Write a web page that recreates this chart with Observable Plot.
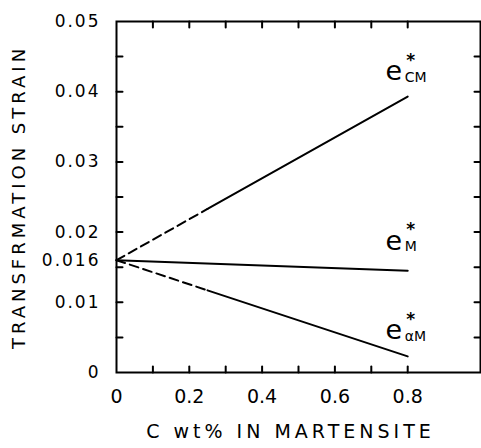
<!DOCTYPE html>
<html>
<head>
<meta charset="utf-8">
<script src="https://cdn.jsdelivr.net/npm/d3@7"></script>
<script src="https://cdn.jsdelivr.net/npm/@observablehq/plot@0.6"></script>
<style>
  html, body { margin: 0; padding: 0; background: #fff; }
  #chart svg { display: block; font-family: "DejaVu Sans", sans-serif; }
  g[aria-label="y-axis tick label"] text { letter-spacing: 2px; }
</style>
</head>
<body>
<div id="chart"></div>
<script>
// --- data ---
const cmDashX = [0, 0.25], cmDashY = [0.016, 0.0233];
const cmSolidX = [0.25, 0.8], cmSolidY = [0.0233, 0.0393];
const mX = [0, 0.8], mY = [0.016, 0.0145];
const amDashX = [0, 0.25], amDashY = [0.016, 0.0117];
const amSolidX = [0.25, 0.8], amSolidY = [0.0117, 0.0023];

const labelSubs = ["CM", "M", "αM"];
const labelX = [0.8, 0.8, 0.8];
const labelY = [0.0429, 0.01875, 0.0060];

const yTickValues = [0, 0.01, 0.016, 0.02, 0.03, 0.04, 0.05];
const yTickLabels = ["0", "0.01", "0.016", "0.02", "0.03", "0.04", "0.05"];
const xTickValues = [0, 0.2, 0.4, 0.6, 0.8];
const xTickLabels = ["0", "0.2", "0.4", "0.6", "0.8"];
const xMinorTicks = [0.1, 0.2, 0.3, 0.4, 0.5, 0.6, 0.7, 0.8];
const yMinorTicks = [0.005, 0.01, 0.015, 0.02, 0.025, 0.03, 0.035, 0.04, 0.045];

const xTitle = "C wt% IN MARTENSITE";
const yTitle = "TRANSFRMATION STRAIN";

const xDomain = [0, 1], yDomain = [0, 0.05];

const pts = (xs, ys) => xs.map((x, i) => ({x, y: ys[i]}));
const labels = labelSubs.map((s, i) => ({sub: s, x: labelX[i], y: labelY[i]}));

const W = 481, H = 448, ML = 116, MR = 1, MT = 21, MB = 76;
const PW = W - ML - MR, PH = H - MT - MB;
const T = 6; // inward tick length in px
const tx = T / PW * (xDomain[1] - xDomain[0]);
const ty = T / PH * (yDomain[1] - yDomain[0]);

// tick segments (two endpoints each, grouped by key)
const tickSegs = [
  ...yMinorTicks.flatMap(v => [{x: xDomain[0], y: v, k: "L" + v}, {x: xDomain[0] + tx, y: v, k: "L" + v}]),
  ...yMinorTicks.flatMap(v => [{x: xDomain[1] - tx, y: v, k: "R" + v}, {x: xDomain[1], y: v, k: "R" + v}]),
  ...xMinorTicks.flatMap(v => [{x: v, y: yDomain[0], k: "B" + v}, {x: v, y: yDomain[0] + ty, k: "B" + v}]),
  ...xMinorTicks.flatMap(v => [{x: v, y: yDomain[1] - ty, k: "T" + v}, {x: v, y: yDomain[1], k: "T" + v}])
];

const chart = Plot.plot({
  width: W,
  height: H,
  marginLeft: ML,
  marginRight: MR,
  marginTop: MT,
  marginBottom: MB,
  x: {domain: xDomain},
  y: {domain: yDomain},
  marks: [
    Plot.frame({stroke: "black", strokeWidth: 2, fill: "none"}),
    // inward ticks
    Plot.line(tickSegs, {x: "x", y: "y", z: "k", stroke: "black", strokeWidth: 2}),
    // tick labels
    Plot.axisY(yTickValues, {anchor: "left", tickSize: 0, tickPadding: 16, fontSize: 17,
      tickFormat: (d) => yTickLabels[yTickValues.indexOf(d)], label: null}),
    Plot.axisX(xTickValues, {anchor: "bottom", tickSize: 0, tickPadding: 17, fontSize: 19,
      tickFormat: (d) => xTickLabels[xTickValues.indexOf(d)], label: null}),
    // lines
    Plot.line(pts(cmDashX, cmDashY), {x: "x", y: "y", stroke: "black", strokeWidth: 2, strokeDasharray: "9,5"}),
    Plot.line(pts(cmSolidX, cmSolidY), {x: "x", y: "y", stroke: "black", strokeWidth: 2}),
    Plot.line(pts(mX, mY), {x: "x", y: "y", stroke: "black", strokeWidth: 2}),
    Plot.line(pts(amDashX, amDashY), {x: "x", y: "y", stroke: "black", strokeWidth: 2, strokeDasharray: "9,5"}),
    Plot.line(pts(amSolidX, amSolidY), {x: "x", y: "y", stroke: "black", strokeWidth: 2}),
    // curve labels e*_sub
    Plot.text(labels, {x: "x", y: "y", text: () => "e", fontSize: 27, dx: -14, textAnchor: "middle", fill: "black"}),
    Plot.text(labels, {x: "x", y: "y", text: "sub", fontSize: 14, dx: -3, dy: 6, textAnchor: "start", fill: "black"}),
    Plot.text(labels, {x: "x", y: "y", text: () => "*", fontSize: 17, fontWeight: "bold", dx: 3, dy: -11, textAnchor: "middle", fill: "black"}),
    // titles
    Plot.text([xTitle], {frameAnchor: "bottom", dx: -8, dy: 65, fontSize: 19, text: d => d, fill: "black", textAnchor: "middle"}),
    Plot.text([yTitle], {frameAnchor: "left", dx: -97, dy: 0, rotate: -90, fontSize: 18, text: d => d, fill: "black", textAnchor: "middle"})
  ]
});
d3.select(chart).selectAll("text").filter(function() { return this.textContent === xTitle; })
  .style("letter-spacing", "4px");
d3.select(chart).selectAll("text").filter(function() { return this.textContent === yTitle; })
  .style("letter-spacing", "4px");
document.getElementById("chart").appendChild(chart);
</script>
</body>
</html>
